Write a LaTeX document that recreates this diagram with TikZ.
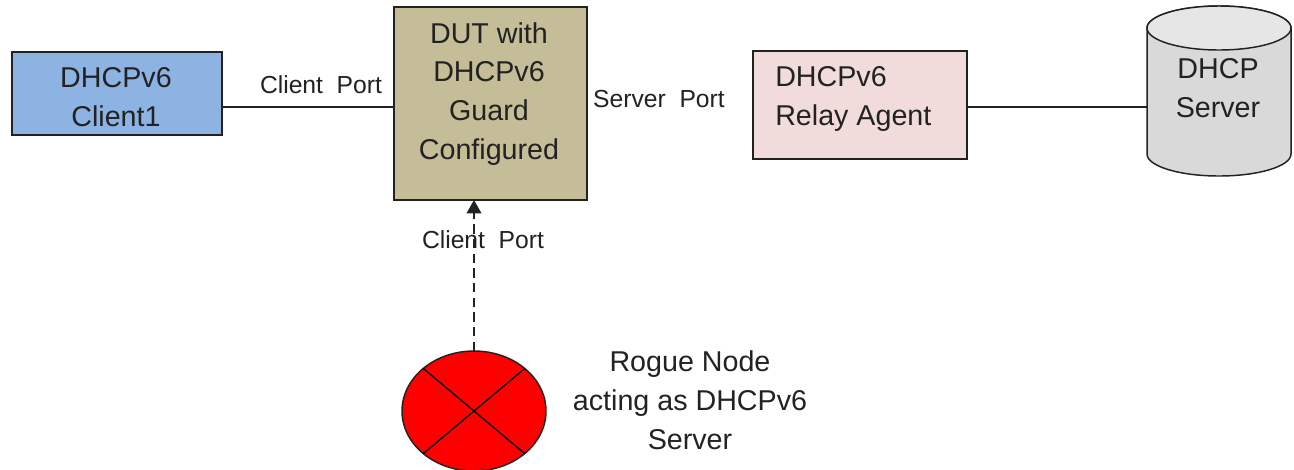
\documentclass[tikz,border=0pt]{standalone}
\usepackage{fontspec}
\setmainfont{Liberation Sans}
\usetikzlibrary{shapes.geometric,arrows.meta}
\definecolor{ink}{HTML}{222222}
\definecolor{clientblue}{HTML}{8DB3E2}
\definecolor{dutkhaki}{HTML}{C4BD97}
\definecolor{relaypink}{HTML}{F2DCDB}
\definecolor{serverbody}{HTML}{D9D9D9}
\definecolor{servertop}{HTML}{E6E6E6}
\tikzset{
  boxshape/.style={draw=ink,line width=1.1pt,inner sep=0pt,outer sep=0pt},
  boxtext/.style={font=\fontsize{21.5}{29.2}\selectfont,text=ink,inner sep=0pt,align=center},
  porttext/.style={font=\fontsize{18.5}{22}\selectfont,text=ink,inner sep=0pt},
  link/.style={draw=ink,line width=1.1pt},
  crossline/.style={draw=black,line width=1pt}
}
\begin{document}
\begin{tikzpicture}[x=0.75pt,y=-0.75pt]
\useasboundingbox (0,0) rectangle (1294,469);
\node[boxshape,fill=clientblue,minimum width=157.5pt,minimum height=62.25pt] (client) at (117,93.5) {};
\node[boxshape,fill=dutkhaki,minimum width=144.75pt,minimum height=144.75pt] (dut) at (490.5,103.5) {};
\node[boxshape,fill=relaypink,minimum width=160.5pt,minimum height=81pt] (relay) at (860,105) {};
% cylinder outline around an anchor-only node
\node[inner sep=0pt,outer sep=0pt,minimum width=108pt,minimum height=127.5pt] (server) at (1219,91) {};
\draw[draw=ink,line width=1.1pt,fill=serverbody] (1147,28) -- (1147,154) arc[start angle=180,end angle=360,x radius=54pt,y radius=16.5pt] -- (1291,28) arc[start angle=0,end angle=180,x radius=54pt,y radius=16.5pt] -- cycle;
\draw[draw=ink,line width=1.1pt,fill=servertop] (1219,28) ellipse[x radius=54pt,y radius=16.5pt];
\node[boxshape,ellipse,fill=red,minimum width=108pt,minimum height=90pt] (rogue) at (474,411) {};
\coordinate (portrow) at (0,107);
\draw[link] (client.east |- portrow) -- (dut.west |- portrow);
\draw[link] (relay.east |- portrow) -- (server.west |- portrow);
\draw[link,dashed,dash pattern=on 7pt off 4pt,-{Triangle[length=10pt,width=11pt]}] (rogue.north) -- (rogue.north |- dut.south);
\draw[crossline] (rogue.140) -- (rogue.320);
\draw[crossline] (rogue.40) -- (rogue.220);
\node[boxtext] (clienttext) at (116,97) {DHCPv6\\Client1};
\node[boxtext] (duttext) at (489,94) {DUT with\\DHCPv6\\Guard\\Configured};
\node[boxtext,align=left,anchor=west] (relaytext) at (775,99) {DHCPv6\\Relay Agent};
\node[boxtext] (servertext) at (1218,88) {DHCP\\Server};
\node[boxtext] (roguetext) at (690,400) {Rogue Node\\acting as DHCPv6\\Server};
\node[porttext] (clientport) at (321,85) {Client\ \ Port};
\node[porttext] (serverport) at (659,99) {Server\ \ Port};
\node[porttext] (lowerport) at (483,240) {Client\ \ Port};
\end{tikzpicture}
\end{document}
